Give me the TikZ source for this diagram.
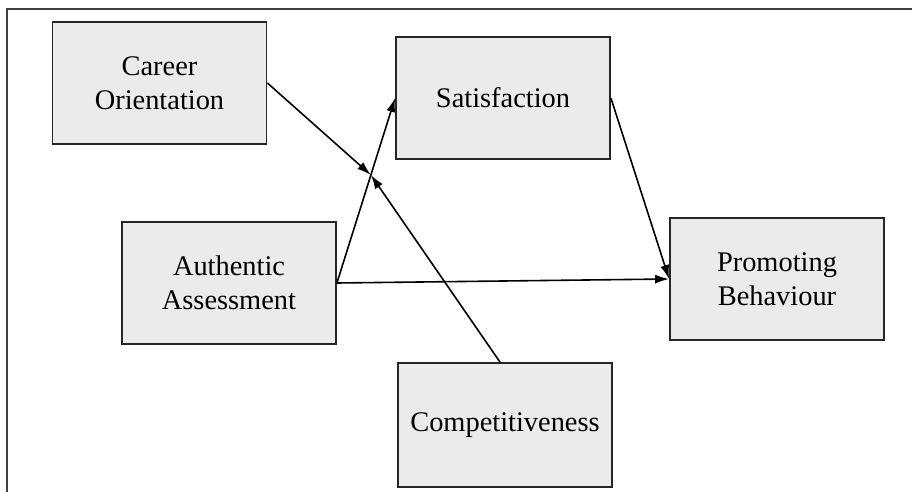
\documentclass[tikz,border=0pt]{standalone}
\usepackage{fontspec}
\setmainfont{Liberation Serif}
\usetikzlibrary{arrows.meta,calc}

\begin{document}
\begin{tikzpicture}[x=0.5pt,y=-0.5pt,
    box/.style={draw=black!85, line width=0.9pt, fill=black!8, rectangle,
        minimum width=107pt, minimum height=61pt, inner sep=0pt,
        align=center, font=\fontsize{14.2}{17}\selectfont},
    link/.style={line width=0.8pt, -{Latex[length=7pt,width=4.5pt]}}]
            \useasboundingbox (0,0) rectangle (912,492);
            % frame
            \path[draw, black!75, line width=1.2pt](7,492) to (7,9) to (912,9);

            % boxes
            \node[box](car) at (159.5,83){Career\\Orientation};
            \node[box](sat) at (503,98){Satisfaction};
            \node[box](auth) at (229,283){Authentic\\Assessment};
            \node[box](prom) at (777,279){Promoting\\Behaviour};
            \node[box, minimum height=62pt](comp) at (505,425){Competitiveness};

            % main paths
            \path[draw, link](auth.east) to coordinate[pos=0.584](mod) (sat.west);
            \path[draw, link](auth.east) to (prom.west);
            \path[draw, link](sat.east) to (prom.west);

            % moderators
            \path[draw, link](car.east) to (mod);
            \path[draw, link]([xshift=-2.5pt]comp.north) to (mod);
        \end{tikzpicture}
\end{document}
